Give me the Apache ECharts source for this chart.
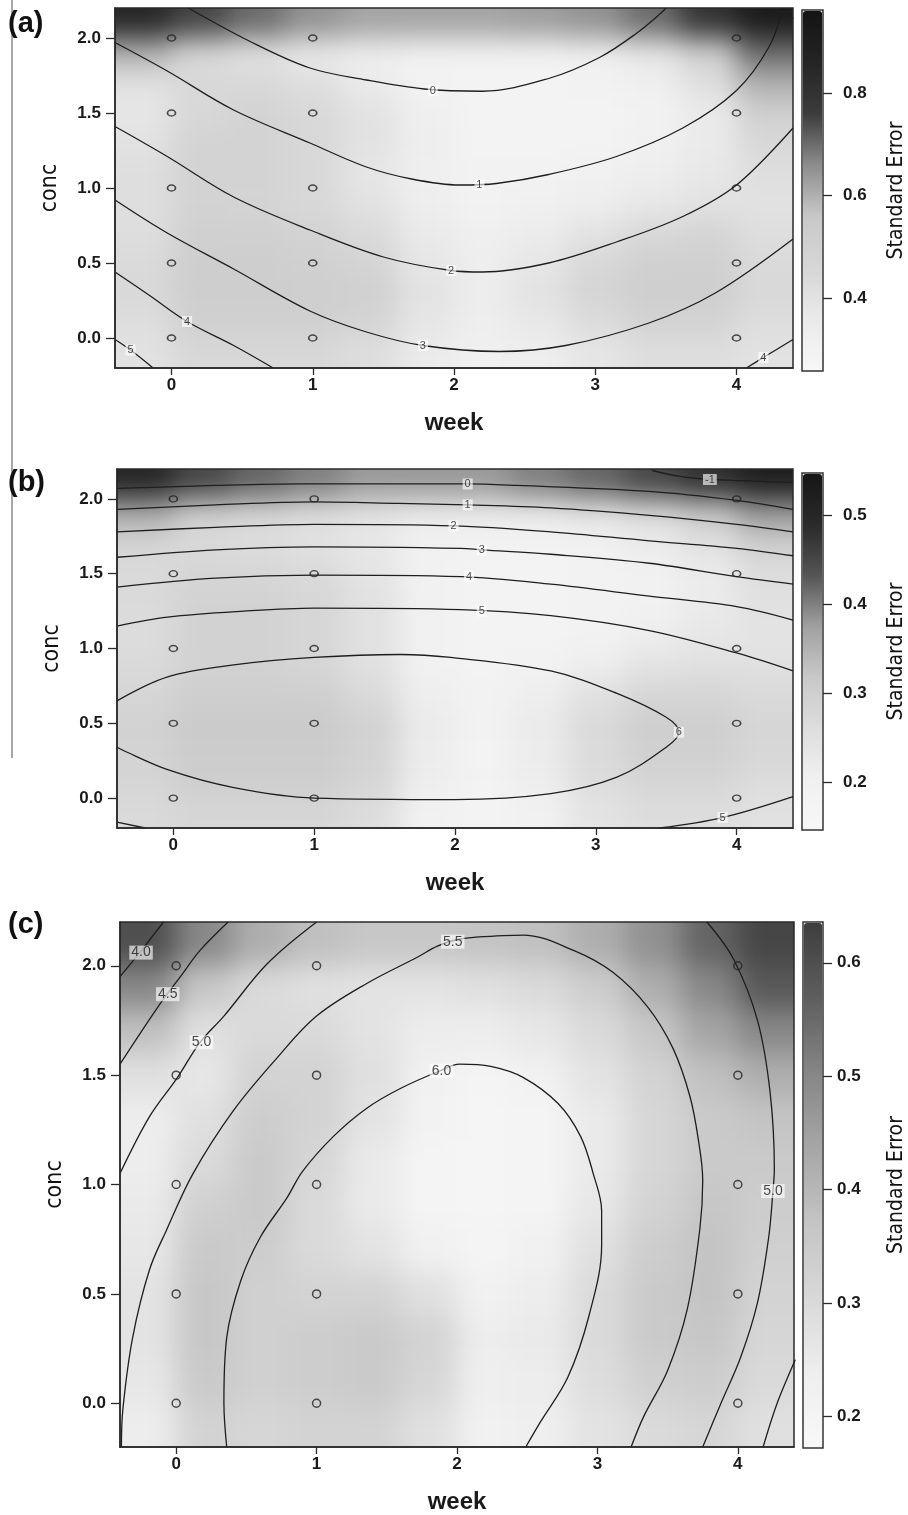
<!DOCTYPE html>
<html>
<head>
<meta charset="utf-8">
<script src="https://cdn.jsdelivr.net/npm/echarts@6/dist/echarts.min.js"></script>
<style>
html,body{margin:0;padding:0;background:#fff;}
#wrap{position:relative;width:908px;height:1515px;}
#chart{position:absolute;left:0;top:0;width:908px;height:1515px;}
.heatBox{position:absolute;overflow:hidden;}
.heatInner{position:absolute;filter:blur(14px);}
</style>
</head>
<body>
<div id="wrap"><div id="chart"></div></div>
<script>
// 坐标刻度
var weekTicks = [0, 1, 2, 3, 4];
var concTicks = [0, 0.5, 1, 1.5, 2];
// 试验设计点
var designWeek = [0, 1, 4];
var designConc = [0, 0.5, 1, 1.5, 2];
// 标准误格子中心 (列: week, 行: conc 自下而上)
var cellWeek = [-0.2, 0.2, 0.6, 1.0, 1.4, 1.8, 2.2, 2.6, 3.0, 3.4, 3.8, 4.2];
var cellConc = [-0.1, 0.1, 0.3, 0.5, 0.7, 0.9, 1.1, 1.3, 1.5, 1.7, 1.9, 2.1];

// ---------- (a) ----------
var seTicksA = [0.4, 0.6, 0.8];
var seRangeA = [0.258, 0.962];
// 行自上而下: conc 2.1 ... -0.1
var seA = [
    [0.85, 0.75, 0.70, 0.65, 0.62, 0.62, 0.62, 0.63, 0.65, 0.70, 0.80, 0.92],
    [0.60, 0.45, 0.40, 0.36, 0.33, 0.30, 0.30, 0.30, 0.32, 0.38, 0.50, 0.70],
    [0.40, 0.45, 0.45, 0.42, 0.35, 0.30, 0.29, 0.29, 0.30, 0.32, 0.42, 0.60],
    [0.38, 0.45, 0.48, 0.45, 0.40, 0.32, 0.29, 0.29, 0.29, 0.30, 0.35, 0.50],
    [0.40, 0.48, 0.48, 0.45, 0.40, 0.33, 0.29, 0.29, 0.29, 0.31, 0.36, 0.45],
    [0.42, 0.48, 0.48, 0.45, 0.38, 0.32, 0.30, 0.30, 0.31, 0.33, 0.37, 0.42],
    [0.42, 0.48, 0.47, 0.45, 0.40, 0.33, 0.30, 0.31, 0.33, 0.37, 0.40, 0.40],
    [0.42, 0.50, 0.50, 0.48, 0.44, 0.36, 0.32, 0.34, 0.40, 0.45, 0.47, 0.42],
    [0.44, 0.52, 0.52, 0.50, 0.47, 0.38, 0.33, 0.38, 0.45, 0.50, 0.50, 0.44],
    [0.45, 0.52, 0.52, 0.52, 0.50, 0.40, 0.34, 0.40, 0.47, 0.52, 0.52, 0.45],
    [0.42, 0.50, 0.50, 0.50, 0.47, 0.38, 0.33, 0.37, 0.43, 0.48, 0.48, 0.42],
    [0.40, 0.45, 0.45, 0.45, 0.42, 0.35, 0.31, 0.33, 0.38, 0.42, 0.42, 0.40]
];
var a0 = [[0.12, 2.2], [0.55, 1.98], [0.98, 1.80], [1.38, 1.72], [1.79, 1.66], [2.2, 1.645], [2.67, 1.73], [3.03, 1.87], [3.29, 2.03], [3.47, 2.17], [3.5, 2.2]];
var a0r = [[4.35, 2.2], [4.4, 2.13]];
var a1 = [[-0.4, 1.97], [-0.03, 1.78], [0.44, 1.52], [0.98, 1.30], [1.38, 1.14], [1.7, 1.06], [2.04, 1.02], [2.3, 1.03], [2.67, 1.09], [3.15, 1.21], [3.62, 1.40], [4.0, 1.65], [4.23, 1.94], [4.33, 2.2]];
var a2 = [[-0.4, 1.41], [-0.03, 1.21], [0.44, 0.94], [0.98, 0.72], [1.5, 0.54], [1.98, 0.45], [2.2, 0.44], [2.67, 0.50], [3.15, 0.64], [3.62, 0.81], [4.0, 1.02], [4.4, 1.40]];
var a3 = [[-0.4, 0.92], [-0.03, 0.70], [0.44, 0.46], [0.98, 0.18], [1.38, 0.04], [1.78, -0.05], [2.32, -0.09], [2.79, -0.05], [3.38, 0.10], [3.85, 0.30], [4.4, 0.66]];
var a4 = [[-0.4, 0.44], [-0.15, 0.28], [0.11, 0.11], [0.44, -0.05], [0.72, -0.2]];
var a4r = [[4.07, -0.2], [4.19, -0.13], [4.4, -0.01]];
var a5 = [[-0.4, -0.01], [-0.29, -0.08], [-0.13, -0.2]];
var labelsA = [['0', 1.85, 1.65], ['1', 2.18, 1.02], ['2', 1.98, 0.45], ['3', 1.78, -0.05], ['4', 0.11, 0.11], ['4', 4.19, -0.13], ['5', -0.29, -0.08]];

// ---------- (b) ----------
var seTicksB = [0.2, 0.3, 0.4, 0.5];
var seRangeB = [0.147, 0.547];
var seB = [
    [0.50, 0.45, 0.42, 0.40, 0.38, 0.38, 0.38, 0.40, 0.42, 0.45, 0.48, 0.52],
    [0.36, 0.30, 0.28, 0.26, 0.24, 0.22, 0.22, 0.22, 0.24, 0.27, 0.32, 0.38],
    [0.28, 0.27, 0.26, 0.25, 0.23, 0.20, 0.19, 0.19, 0.20, 0.22, 0.25, 0.30],
    [0.27, 0.28, 0.28, 0.27, 0.24, 0.20, 0.18, 0.18, 0.19, 0.20, 0.22, 0.26],
    [0.27, 0.29, 0.29, 0.28, 0.25, 0.20, 0.18, 0.18, 0.19, 0.20, 0.22, 0.25],
    [0.26, 0.29, 0.29, 0.28, 0.25, 0.20, 0.18, 0.18, 0.19, 0.21, 0.23, 0.24],
    [0.27, 0.29, 0.29, 0.28, 0.25, 0.20, 0.18, 0.19, 0.21, 0.24, 0.25, 0.25],
    [0.28, 0.30, 0.30, 0.30, 0.27, 0.21, 0.19, 0.21, 0.25, 0.28, 0.28, 0.27],
    [0.29, 0.31, 0.31, 0.31, 0.29, 0.22, 0.19, 0.22, 0.27, 0.30, 0.30, 0.28],
    [0.29, 0.31, 0.31, 0.31, 0.29, 0.22, 0.19, 0.22, 0.27, 0.30, 0.30, 0.28],
    [0.28, 0.30, 0.30, 0.30, 0.28, 0.21, 0.18, 0.21, 0.26, 0.28, 0.28, 0.26],
    [0.27, 0.28, 0.28, 0.28, 0.26, 0.20, 0.18, 0.20, 0.24, 0.26, 0.26, 0.25]
];
var bm1 = [[3.4, 2.19], [3.6, 2.15], [3.81, 2.13], [4.1, 2.12], [4.4, 2.11]];
var b0 = [[-0.4, 2.07], [0.3, 2.09], [0.91, 2.10], [1.5, 2.1], [2.09, 2.10], [2.44, 2.09], [3.38, 2.05], [4.0, 1.99], [4.4, 1.93]];
var b1 = [[-0.4, 1.93], [0.3, 1.96], [1.0, 1.98], [1.6, 1.97], [2.09, 1.96], [2.68, 1.94], [3.38, 1.89], [4.0, 1.83], [4.4, 1.78]];
var b2 = [[-0.4, 1.78], [0.3, 1.81], [1.0, 1.83], [1.99, 1.82], [2.68, 1.78], [3.38, 1.72], [4.0, 1.67], [4.4, 1.62]];
var b3 = [[-0.4, 1.61], [0.3, 1.66], [1.0, 1.68], [2.04, 1.67], [2.19, 1.66], [2.68, 1.63], [3.38, 1.57], [4.0, 1.48], [4.4, 1.43]];
var b4 = [[-0.4, 1.41], [0.3, 1.47], [1.0, 1.49], [2.04, 1.48], [2.68, 1.43], [3.38, 1.35], [4.0, 1.28], [4.4, 1.19]];
var b5 = [[-0.4, 1.15], [-0.04, 1.21], [0.5, 1.25], [1.0, 1.27], [2.04, 1.26], [2.68, 1.22], [3.38, 1.12], [4.0, 0.97], [4.4, 0.85]];
var b6 = [[-0.4, 0.65], [-0.04, 0.81], [0.43, 0.89], [1.0, 0.94], [1.61, 0.96], [1.97, 0.94], [2.68, 0.85], [3.15, 0.70], [3.5, 0.54], [3.59, 0.44], [3.5, 0.34], [3.15, 0.14], [2.68, 0.03], [2.0, -0.01], [1.0, 0.0], [0.43, 0.07], [-0.04, 0.19], [-0.4, 0.34]];
var b5l = [[-0.4, -0.16], [-0.2, -0.2]];
var b5r = [[3.45, -0.2], [3.9, -0.13], [4.4, 0.01]];
var labelsB = [['-1', 3.81, 2.13], ['0', 2.09, 2.10], ['1', 2.09, 1.96], ['2', 1.99, 1.82], ['3', 2.19, 1.66], ['4', 2.1, 1.48], ['5', 2.19, 1.25], ['6', 3.59, 0.44], ['5', 3.9, -0.13]];

// ---------- (c) ----------
var seTicksC = [0.2, 0.3, 0.4, 0.5, 0.6];
var seRangeC = [0.172, 0.636];
var seC = [
    [0.60, 0.50, 0.42, 0.38, 0.36, 0.36, 0.37, 0.38, 0.42, 0.48, 0.56, 0.62],
    [0.50, 0.36, 0.30, 0.28, 0.27, 0.27, 0.28, 0.30, 0.34, 0.42, 0.50, 0.58],
    [0.38, 0.28, 0.30, 0.30, 0.27, 0.24, 0.24, 0.26, 0.30, 0.36, 0.44, 0.50],
    [0.28, 0.26, 0.32, 0.32, 0.28, 0.22, 0.20, 0.22, 0.27, 0.32, 0.38, 0.42],
    [0.24, 0.28, 0.34, 0.32, 0.27, 0.21, 0.19, 0.20, 0.25, 0.31, 0.35, 0.37],
    [0.24, 0.30, 0.35, 0.31, 0.25, 0.20, 0.19, 0.20, 0.25, 0.31, 0.35, 0.35],
    [0.25, 0.33, 0.35, 0.30, 0.25, 0.20, 0.19, 0.20, 0.26, 0.32, 0.36, 0.34],
    [0.26, 0.35, 0.34, 0.30, 0.27, 0.22, 0.20, 0.22, 0.28, 0.34, 0.37, 0.33],
    [0.27, 0.36, 0.33, 0.32, 0.32, 0.28, 0.22, 0.24, 0.30, 0.35, 0.37, 0.32],
    [0.27, 0.36, 0.33, 0.34, 0.35, 0.32, 0.24, 0.25, 0.30, 0.35, 0.36, 0.31],
    [0.26, 0.35, 0.33, 0.34, 0.35, 0.31, 0.23, 0.24, 0.29, 0.33, 0.34, 0.30],
    [0.24, 0.32, 0.31, 0.32, 0.32, 0.28, 0.22, 0.23, 0.27, 0.30, 0.31, 0.28]
];
var c40 = [[-0.4, 1.95], [-0.26, 2.06], [-0.09, 2.2]];
var c45 = [[-0.4, 1.55], [-0.11, 1.83], [0.03, 1.95], [0.17, 2.07], [0.37, 2.2]];
var c50 = [[-0.4, 1.05], [-0.19, 1.31], [0.01, 1.49], [0.17, 1.65], [0.34, 1.77], [0.65, 2.01], [1.0, 2.2]];
var c55 = [[-0.39, -0.2], [-0.38, -0.03], [-0.31, 0.30], [-0.19, 0.61], [-0.07, 0.79], [0.12, 1.05], [0.41, 1.34], [0.72, 1.58], [1.0, 1.77], [1.36, 1.92], [1.72, 2.04], [1.86, 2.09], [2.0, 2.12], [2.12, 2.13], [2.47, 2.14], [2.83, 2.07], [3.11, 1.97], [3.36, 1.81], [3.54, 1.62], [3.66, 1.40], [3.72, 1.20], [3.75, 1.02], [3.73, 0.80], [3.64, 0.43], [3.5, 0.15], [3.33, -0.06], [3.24, -0.2]];
var c60 = [[0.36, -0.2], [0.34, 0.0], [0.36, 0.30], [0.46, 0.56], [0.60, 0.76], [0.79, 0.94], [0.9, 1.06], [1.12, 1.22], [1.36, 1.35], [1.60, 1.44], [1.88, 1.52], [2.02, 1.55], [2.24, 1.54], [2.47, 1.49], [2.72, 1.37], [2.88, 1.22], [2.97, 1.05], [3.03, 0.88], [3.03, 0.72], [2.94, 0.40], [2.79, 0.12], [2.59, -0.09], [2.49, -0.2]];
var c50r = [[3.78, 2.2], [3.97, 2.03], [4.14, 1.75], [4.23, 1.42], [4.26, 1.07], [4.25, 0.97], [4.22, 0.76], [4.14, 0.46], [4.02, 0.21], [3.88, 0.0], [3.75, -0.2]];
var c45r = [[4.18, -0.2], [4.28, 0.0], [4.41, 0.2]];
var labelsC = [['4.0', -0.25, 2.06], ['4.5', -0.06, 1.87], ['5.0', 0.18, 1.65], ['5.5', 1.97, 2.11], ['6.0', 1.89, 1.52], ['5.0', 4.25, 0.97]];

var panels = [
    {
        tag: '(a)', tagTop: 9,
        grid: {left: 115, top: 8, width: 678, height: 360},
        bar: {left: 802, top: 10, width: 21, height: 361},
        se: seA, range: seRangeA, ticks: seTicksA, barLabelMargin: 20,
        colors: ['#f7f7f7', '#eaeaea', '#d6d6d6', '#c8c8c8', '#8c8c8c', '#3c3c3c', '#242424', '#141414'],
        lines: [a0, a0r, a1, a2, a3, a4, a4r, a5], labels: labelsA, labelSize: 11, dot: [8, 6]
    },
    {
        tag: '(b)', tagTop: 468,
        grid: {left: 117, top: 469, width: 676, height: 359},
        bar: {left: 802, top: 473, width: 21, height: 357},
        se: seB, range: seRangeB, ticks: seTicksB, barLabelMargin: 20,
        colors: ['#f7f7f7', '#f0f0f0', '#dddddd', '#c8c8c8', '#a0a0a0', '#555555', '#2a2a2a', '#161616'],
        lines: [bm1, b0, b1, b2, b3, b4, b5, b6, b5l, b5r], labels: labelsB, labelSize: 11, dot: [8, 6]
    },
    {
        tag: '(c)', tagTop: 910,
        grid: {left: 120, top: 922, width: 674, height: 525},
        bar: {left: 803, top: 922, width: 20, height: 526},
        se: seC, range: seRangeC, ticks: seTicksC, barLabelMargin: 14,
        colors: ['#f8f8f8', '#eeeeee', '#d8d8d8', '#c4c4c4', '#a6a6a6', '#868686', '#5e5e5e', '#3e3e3e'],
        lines: [c40, c45, c50, c55, c60, c50r, c45r], labels: labelsC, labelSize: 14, dot: [8, 8]
    }
];

var axisColor = '#2a2a2a';
var tickFont = {fontFamily: 'Liberation Sans, Arial, sans-serif', fontWeight: 'bold', fontSize: 17, color: '#1a1a1a'};
var narrowFont = 'Liberation Sans Narrow, DejaVu Sans Condensed, Arial Narrow, sans-serif';
var halfW = (cellWeek[1] - cellWeek[0]) / 2, halfC = (cellConc[1] - cellConc[0]) / 2;
var EDGE = 45; // 模糊层外扩像素

// ---------- 标准误底图 (单独实例, CSS 模糊) ----------
panels.forEach(function (p, i) {
    var box = document.createElement('div');
    box.className = 'heatBox';
    box.style.left = p.grid.left + 'px';
    box.style.top = p.grid.top + 'px';
    box.style.width = p.grid.width + 'px';
    box.style.height = p.grid.height + 'px';
    var inner = document.createElement('div');
    inner.className = 'heatInner';
    inner.style.left = -EDGE + 'px';
    inner.style.top = -EDGE + 'px';
    inner.style.width = (p.grid.width + 2 * EDGE) + 'px';
    inner.style.height = (p.grid.height + 2 * EDGE) + 'px';
    box.appendChild(inner);
    document.getElementById('wrap').insertBefore(box, document.getElementById('chart'));

    var nR = p.se.length, nC = p.se[0].length;
    var data = [];
    for (var r = 0; r < nR; r++) {
        for (var c = 0; c < nC; c++) {
            var row = nR - 1 - r;
            data.push([cellWeek[c], cellConc[row], p.se[r][c], c, row]);
        }
    }
    var heatChart = echarts.init(inner);
    heatChart.setOption({
        animation: false,
        grid: {left: EDGE, top: EDGE, width: p.grid.width, height: p.grid.height},
        xAxis: {type: 'value', min: -0.4, max: 4.4, show: false},
        yAxis: {type: 'value', min: -0.2, max: 2.2, show: false},
        visualMap: {show: false, type: 'continuous', dimension: 2, min: p.range[0], max: p.range[1], inRange: {color: p.colors}},
        series: [{
            type: 'custom', clip: false, silent: true, data: data,
            renderItem: function (params, api) {
                var w = api.value(0), cc = api.value(1), col = api.value(3), row = api.value(4);
                var p0 = api.coord([w - halfW, cc + halfC]);
                var p1 = api.coord([w + halfW, cc - halfC]);
                var x0 = p0[0], y0 = p0[1], x1 = p1[0], y1 = p1[1];
                if (col === 0) x0 -= EDGE;
                if (col === nC - 1) x1 += EDGE;
                if (row === nR - 1) y0 -= EDGE;
                if (row === 0) y1 += EDGE;
                return {
                    type: 'rect',
                    shape: {x: x0, y: y0, width: x1 - x0 + 0.6, height: y1 - y0 + 0.6},
                    style: {fill: api.visual('color')}
                };
            }
        }]
    });
});

// ---------- 主图 ----------
var option = {
    animation: false,
    backgroundColor: 'transparent',
    grid: [], xAxis: [], yAxis: [], series: [], visualMap: [],
    graphic: [{
        type: 'line', shape: {x1: 12, y1: 0, x2: 12, y2: 758},
        style: {stroke: '#8a8a8a', lineWidth: 1.5}, silent: true
    }]
};

panels.forEach(function (p) {
    var g = option.grid.length;
    option.grid.push({
        left: p.grid.left, top: p.grid.top, width: p.grid.width, height: p.grid.height,
        show: true, borderColor: axisColor, borderWidth: 1.5, backgroundColor: 'transparent'
    });
    option.grid.push({
        left: p.bar.left, top: p.bar.top, width: p.bar.width, height: p.bar.height,
        show: true, borderColor: '#333', borderWidth: 1.5, backgroundColor: 'transparent', z: 6
    });

    var xv = option.xAxis.length;
    option.xAxis.push({
        type: 'value', gridIndex: g, position: 'bottom', min: -0.4, max: 4.4, z: 10,
        axisLine: {show: true, onZero: false, lineStyle: {color: axisColor, width: 1.5}},
        axisTick: {show: true, customValues: weekTicks, length: 7, lineStyle: {color: axisColor, width: 1.3}},
        axisLabel: Object.assign({customValues: weekTicks, margin: 9}, tickFont),
        splitLine: {show: false},
        name: 'week', nameLocation: 'middle', nameGap: 43,
        nameTextStyle: {fontFamily: 'Liberation Sans, Arial, sans-serif', fontWeight: 'bold', fontSize: 24, color: '#1a1a1a'}
    });
    option.xAxis.push({type: 'value', gridIndex: g + 1, show: false, min: 0, max: 1});

    var yv = option.yAxis.length;
    option.yAxis.push({
        type: 'value', gridIndex: g, position: 'left', min: -0.2, max: 2.2, z: 10,
        axisLine: {show: true, onZero: false, lineStyle: {color: axisColor, width: 1.5}},
        axisTick: {show: true, customValues: concTicks, length: 9, lineStyle: {color: axisColor, width: 1.3}},
        axisLabel: Object.assign({customValues: concTicks, margin: 14, formatter: function (v) { return v.toFixed(1); }}, tickFont),
        splitLine: {show: false},
        name: 'conc', nameLocation: 'middle', nameGap: 53, nameRotate: 90,
        nameTextStyle: {fontFamily: narrowFont, fontSize: 23, color: '#111'}
    });
    // 色标轴
    option.yAxis.push({
        type: 'value', gridIndex: g + 1, position: 'right', min: p.range[0], max: p.range[1], z: 10,
        axisLine: {show: false, onZero: false},
        axisTick: {show: true, customValues: p.ticks, length: 9, lineStyle: {color: axisColor, width: 1.3}},
        axisLabel: Object.assign({customValues: p.ticks, margin: p.barLabelMargin}, tickFont),
        splitLine: {show: false},
        name: 'Standard Error', nameLocation: 'middle', nameGap: 63, nameRotate: 90,
        nameTextStyle: {fontFamily: narrowFont, fontSize: 21, color: '#111'}
    });

    option.visualMap.push({
        type: 'continuous', seriesIndex: [], min: p.range[0], max: p.range[1],
        inRange: {color: p.colors}, calculable: false, hoverLink: false, padding: 0,
        left: p.bar.left + 1, top: p.bar.top + 1, itemWidth: p.bar.width - 2, itemHeight: p.bar.height - 2,
        text: null
    });

    // 等值线
    p.lines.forEach(function (pts) {
        option.series.push({
            type: 'line', xAxisIndex: xv, yAxisIndex: yv, data: pts,
            smooth: 0.35, showSymbol: false, silent: true, z: 3,
            lineStyle: {color: '#1e1e1e', width: 1.3}
        });
    });
    // 等值线标注
    option.series.push({
        type: 'scatter', xAxisIndex: xv, yAxisIndex: yv, silent: true, z: 5,
        symbolSize: 1, itemStyle: {color: 'rgba(0,0,0,0)'},
        data: p.labels.map(function (l) { return {value: [l[1], l[2]], name: l[0]}; }),
        label: {
            show: true, position: 'inside', formatter: '{b}',
            fontFamily: 'Liberation Sans, Arial, sans-serif', fontSize: p.labelSize, color: '#1a1a1a',
            backgroundColor: 'rgba(255,255,255,0.8)', padding: [0, 2]
        }
    });
    // 设计点
    var pts = [];
    designWeek.forEach(function (w) {
        designConc.forEach(function (cc) { pts.push([w, cc]); });
    });
    option.series.push({
        type: 'scatter', xAxisIndex: xv, yAxisIndex: yv, silent: true, z: 6,
        data: pts, symbol: 'circle', symbolSize: p.dot,
        itemStyle: {color: 'rgba(255,255,255,0)', borderColor: '#222', borderWidth: 1.5}
    });

    option.graphic.push({
        type: 'text', left: 8, top: p.tagTop, silent: true,
        style: {text: p.tag, font: 'bold 29px "Liberation Sans", Arial, sans-serif', fill: '#111'}
    });
});

var myChart = echarts.init(document.getElementById('chart'));
myChart.setOption(option);
</script>
</body>
</html>
